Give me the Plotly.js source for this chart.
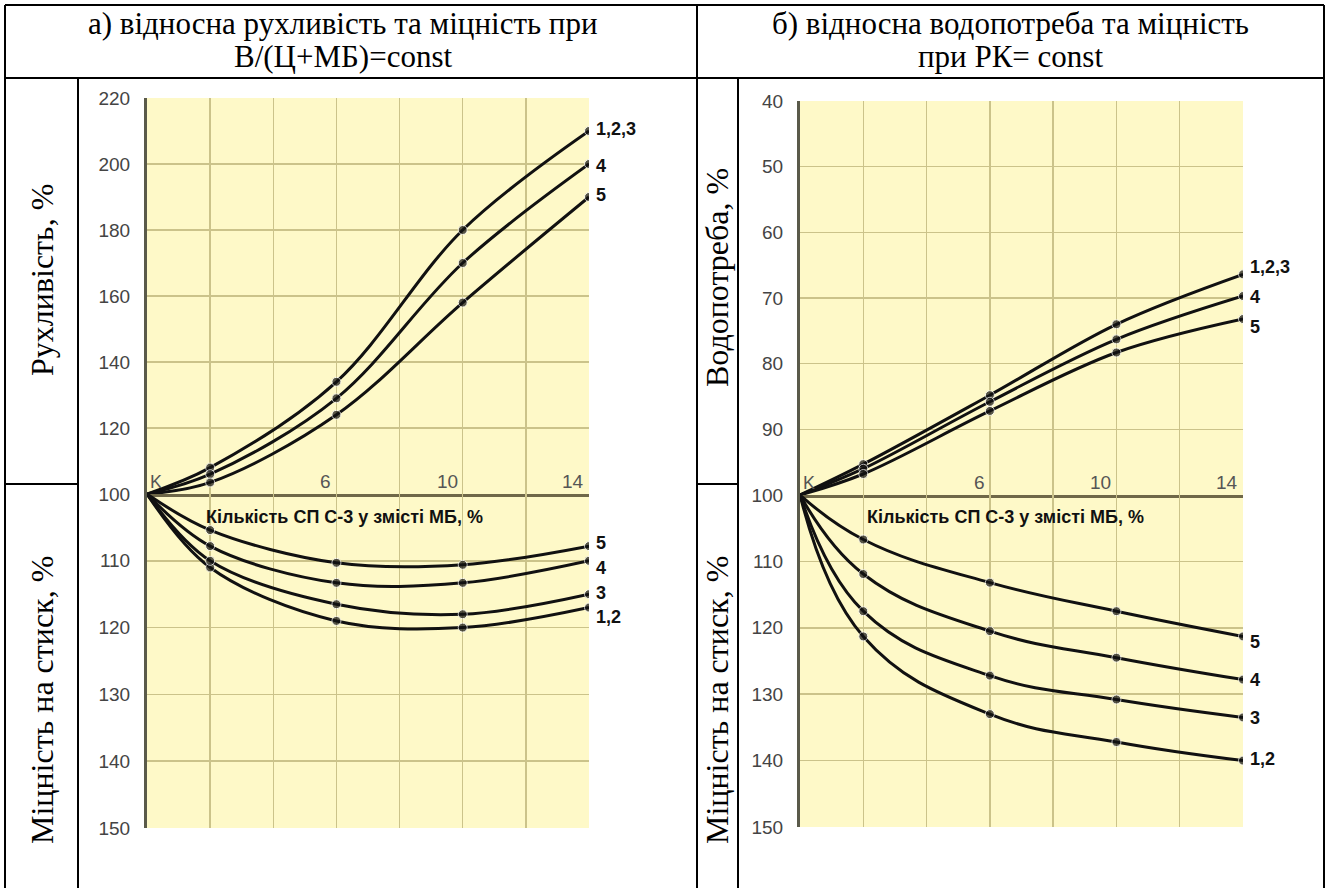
<!DOCTYPE html>
<html>
<head>
<meta charset="utf-8">
<script src="https://cdn.plot.ly/plotly-3.0.1.min.js"></script>
<style>html,body{margin:0;padding:0;background:#fff;}#chart{width:1329px;height:888px;}</style>
</head>
<body>
<div id="chart"></div>
<script>
// ---- data ----
const xPts = [0, 2, 6, 10, 14];
const xTickLabels = ['K', '6', '10', '14'];
const xTickPos = [0, 6, 10, 14];
const xTitle = 'Кількість СП С-3 у змісті МБ, %';

// a) mobility (upper left)
const mobility123 = [100, 108, 134, 180, 210];
const mobility4 = [100, 106, 129, 170, 200];
const mobility5 = [100, 103.5, 124, 158, 190];
const mobilityLabels = ['1,2,3', '4', '5'];
const mobilityLabelY = [210.5, 199.5, 190.5];

// a) strength (lower left)
const strengthA12 = [100, 111, 119, 120, 117];
const strengthA3 = [100, 110, 116.5, 118, 115];
const strengthA4 = [100, 107.8, 113.3, 113.3, 110];
const strengthA5 = [100, 105.4, 110.3, 110.6, 107.8];
const strengthALabels = ['5', '4', '3', '1,2'];
const strengthALabelY = [107.4, 111.1, 114.8, 118.4];

// b) water demand (upper right)
const water123 = [100, 95.3, 84.8, 74, 66.4];
const water4 = [100, 96, 85.8, 76.3, 69.7];
const water5 = [100, 96.8, 87.2, 78.3, 73.2];
const waterLabels = ['1,2,3', '4', '5'];
const waterLabelY = [65.3, 69.8, 74.4];

// b) strength (lower right)
const strengthB12 = [100, 121.3, 133, 137.2, 140];
const strengthB3 = [100, 117.5, 127.2, 130.8, 133.5];
const strengthB4 = [100, 111.9, 120.5, 124.5, 127.8];
const strengthB5 = [100, 106.7, 113.2, 117.5, 121.3];
const strengthBLabels = ['5', '4', '3', '1,2'];
const strengthBLabelY = [122.2, 127.8, 133.6, 139.8];

const yTicksMobility = [120, 140, 160, 180, 200, 220];
const yTicksStrength = [100, 110, 120, 130, 140, 150];
const yTicksWater = [40, 50, 60, 70, 80, 90];

const headerA = ['а) відносна рухливість та міцність при', 'В/(Ц+МБ)=const'];
const headerB = ['б) відносна водопотреба та міцність', 'при РК= const'];
const sideLabels = ['Рухливість, %', 'Міцність на стиск, %', 'Водопотреба, %', 'Міцність на стиск, %'];

// ---- geometry helpers ----
const W = 1329, H = 888;
const px = v => v / W;
const py = v => 1 - v / H;

const markerSizes = [0, 9, 9, 9, 9];
function curve(y, xa, ya, sm) {
  return {
    x: xPts, y: y, xaxis: xa, yaxis: ya, type: 'scatter', mode: 'lines+markers',
    line: {color: '#111', width: 3, shape: 'spline', smoothing: sm || 1},
    marker: {color: '#111', size: markerSizes},
    hoverinfo: 'skip', showlegend: false
  };
}

const traces = [
  curve(mobility123, 'x', 'y'), curve(mobility4, 'x', 'y'), curve(mobility5, 'x', 'y'),
  curve(strengthA12, 'x2', 'y2'), curve(strengthA3, 'x2', 'y2'), curve(strengthA4, 'x2', 'y2'), curve(strengthA5, 'x2', 'y2'),
  curve(water123, 'x3', 'y3'), curve(water4, 'x3', 'y3'), curve(water5, 'x3', 'y3'),
  curve(strengthB12, 'x4', 'y4', 1.2), curve(strengthB3, 'x4', 'y4', 1.2), curve(strengthB4, 'x4', 'y4', 1.2), curve(strengthB5, 'x4', 'y4', 1.2)
];

const gridColor = '#cbc38a';
const sans = 'Liberation Sans, Arial, sans-serif';
const tickFont = {family: sans, size: 19, color: '#444'};
function xAx(domain, anchor, showline) {
  return {domain: domain, anchor: anchor, range: [0, 14], dtick: 2, tick0: 0,
    showgrid: true, gridcolor: gridColor, gridwidth: 1.5, zeroline: false,
    showticklabels: false, ticks: '', showline: showline, linecolor: '#6f6848', linewidth: 3, fixedrange: true};
}
function yAx(domain, anchor, range, tickvals) {
  return {domain: domain, anchor: anchor, range: range, tickvals: tickvals,
    showgrid: true, gridcolor: gridColor, gridwidth: 1.5, zeroline: false,
    showline: true, linecolor: '#5a5a4a', linewidth: 3, ticks: '', ticklabelstandoff: 10,
    tickfont: tickFont, fixedrange: true};
}

const xDomL = [px(147), px(589)];
const xDomR = [px(800), px(1243)];

const layout = {
  width: W, height: H, margin: {l: 0, r: 0, t: 0, b: 0},
  paper_bgcolor: '#ffffff', plot_bgcolor: '#fef9c8', showlegend: false,
  xaxis: xAx(xDomL, 'y', true),
  yaxis: yAx([py(494), py(98)], 'x', [100, 220], yTicksMobility),
  xaxis2: xAx(xDomL, 'y2', false),
  yaxis2: yAx([py(828), py(494)], 'x2', [150, 100], yTicksStrength),
  xaxis3: xAx(xDomR, 'y3', true),
  yaxis3: yAx([py(495), py(101)], 'x3', [100, 40], yTicksWater),
  xaxis4: xAx(xDomR, 'y4', false),
  yaxis4: yAx([py(827), py(495)], 'x4', [150, 100], yTicksStrength),
  annotations: [],
  shapes: []
};

// x tick labels inside plot, just above the 100 line
['x', 'x3'].forEach((xa, i) => {
  const ya = i === 0 ? 'y' : 'y3';
  xTickLabels.forEach((t, k) => {
    layout.annotations.push({x: xTickPos[k], y: 100, xref: xa, yref: ya, text: t, showarrow: false,
      xanchor: k === 0 ? 'left' : 'right', yanchor: 'bottom', xshift: k === 0 ? 1 : -3, yshift: 0,
      font: {family: sans, size: k === 0 ? 18 : 19, color: '#555'}});
  });
});

// axis title inside lower plots
const titleFont = {family: sans, size: 18, color: '#111'};
layout.annotations.push({x: 6.24, y: 103.4, xref: 'x2', yref: 'y2', text: '<b>' + xTitle + '</b>', showarrow: false,
  xanchor: 'center', yanchor: 'middle', font: titleFont});
layout.annotations.push({x: 6.49, y: 103.3, xref: 'x4', yref: 'y4', text: '<b>' + xTitle + '</b>', showarrow: false,
  xanchor: 'center', yanchor: 'middle', font: titleFont});

// curve labels
const labFont = {family: sans, size: 18, color: '#111'};
function addLabels(labels, ys, xa, ya) {
  labels.forEach((t, i) => layout.annotations.push({x: 14, y: ys[i], xref: xa, yref: ya, text: '<b>' + t + '</b>',
    showarrow: false, xanchor: 'left', yanchor: 'middle', xshift: 5, font: labFont}));
}
addLabels(mobilityLabels, mobilityLabelY, 'x', 'y');
addLabels(strengthALabels, strengthALabelY, 'x2', 'y2');
addLabels(waterLabels, waterLabelY, 'x3', 'y3');
addLabels(strengthBLabels, strengthBLabelY, 'x4', 'y4');

// headers (each line separately for tight spacing)
const serif = 'Liberation Serif, Times New Roman, serif';
const headerFont = {family: serif, size: 31, color: '#000'};
const headerLineY = [23, 57];
[[headerA, 343], [headerB, 1010]].forEach(([lines, cx]) => {
  lines.forEach((t, i) => layout.annotations.push({x: px(cx), y: py(headerLineY[i]), xref: 'paper', yref: 'paper',
    text: t, showarrow: false, xanchor: 'center', yanchor: 'middle', font: headerFont}));
});

// side labels
const sidePos = [[42, 280], [42, 700], [717, 278], [717, 700]];
sideLabels.forEach((t, i) => layout.annotations.push({x: px(sidePos[i][0]), y: py(sidePos[i][1]), xref: 'paper', yref: 'paper',
  text: t, textangle: -90, showarrow: false, xanchor: 'center', yanchor: 'middle',
  font: {family: serif, size: 32, color: '#000'}}));

// table lines
function line(x0, y0, x1, y1) {
  layout.shapes.push({type: 'line', xref: 'paper', yref: 'paper', x0: px(x0), y0: py(y0), x1: px(x1), y1: py(y1),
    line: {color: '#000', width: 2}});
}
line(5, 5, 1324, 5);
line(5, 78, 1324, 78);
line(5, 5, 5, 888);
line(1324, 5, 1324, 888);
line(697, 5, 697, 888);
line(78, 78, 78, 888);
line(738, 78, 738, 888);
line(5, 484, 78, 484);
line(697, 484, 738, 484);

Plotly.newPlot('chart', traces, layout, {staticPlot: true, displayModeBar: false});
</script>
</body>
</html>
